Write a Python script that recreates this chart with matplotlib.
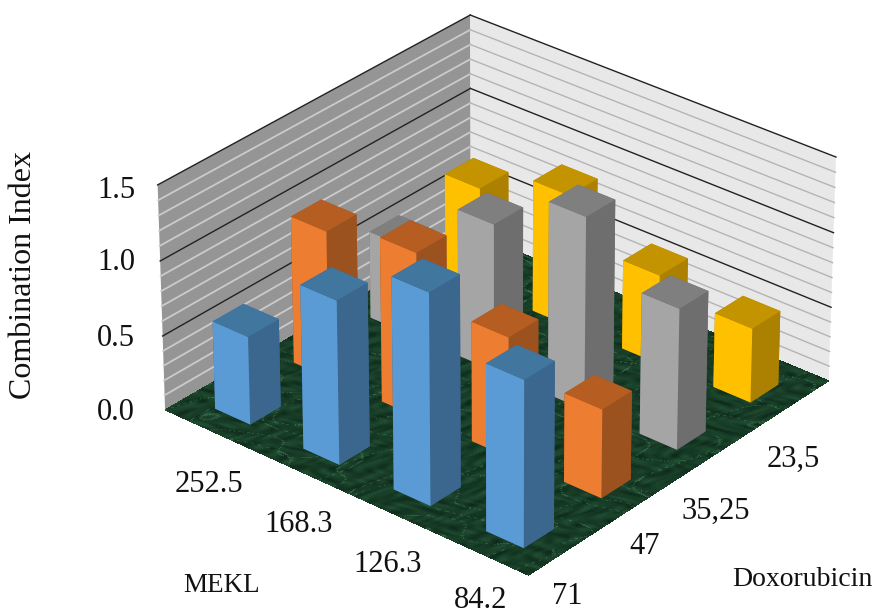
import numpy as np
import matplotlib
matplotlib.use('Agg')
import matplotlib.pyplot as plt
from mpl_toolkits.mplot3d.art3d import Poly3DCollection

plt.rcParams['font.family'] = ['Liberation Serif', 'DejaVu Serif']

W, H = 877, 616

mekl = ['252.5', '168.3', '126.3', '84.2']
doxo = ['71', '47', '35,25', '23,5']
z_labels = ['1.5', '1.0', '0.5', '0.0']
blue = [0.59, 1.09, 1.40, 1.10]
orange = [0.99, 1.10, 0.80, 0.59]
gray = [0.59, 0.99, 1.29, 0.94]
yellow = [0.69, 0.89, 0.60, 0.50]
series = [blue, orange, gray, yellow]

# front, side, top colours of each series
shades = [('#5B9BD5', '#3B668E', '#41769F'),
          ('#ED7D31', '#9C521F', '#B65E22'),
          ('#A5A5A5', '#6E6E6E', '#7F7F7F'),
          ('#FFC000', '#AC8000', '#C49300')]

fig = plt.figure(figsize=(W / 100, H / 100), dpi=100)
side = 700.3
ax = fig.add_axes([(488.8 - side / 2) / W, (322.2 - side / 2) / H, side / W, side / H],
                  projection='3d', computed_zorder=False)
ax.set_xlim(0, 4)
ax.set_ylim(0, 4)
ax.set_zlim(0, 1.5)
ax.view_init(elev=29.963, azim=-49.913)
ax.set_proj_type('persp', focal_length=1.55)
ax.set_box_aspect((1.84, 1.837, 1.0))

# back walls
ax.add_collection3d(Poly3DCollection([[(0, 0, 0), (0, 4, 0), (0, 4, 1.5), (0, 0, 1.5)]],
                                     facecolor='#959595', edgecolor='none', zorder=1))
ax.add_collection3d(Poly3DCollection([[(0, 4, 0), (4, 4, 0), (4, 4, 1.5), (0, 4, 1.5)]],
                                     facecolor='#E8E8E8', edgecolor='none', zorder=1))
for lev in np.arange(1, 16) / 10:
    major = round(lev * 10) % 5 == 0
    ax.plot([0, 0], [0, 4], [lev, lev], color='#222222' if major else '#CBCBCB', lw=1.0 if major else 1.3, zorder=2)
    ax.plot([0, 4], [4, 4], [lev, lev], color='#222222' if major else '#B4B4B4', lw=1.0, zorder=2)

# marble floor: diagonal streaks plus thin pale veins
n = 220
gx, gy = np.meshgrid(np.linspace(0, 4, n), np.linspace(0, 4, n))
u = gx + gy
v = gx - gy
streak = (np.sin(7.0 * u + 2.5 * np.sin(3.1 * v)) * np.sin(23.0 * v + 3.0 * np.sin(5.3 * u))
          + 0.6 * np.sin(31.0 * u + 6.0 * np.sin(9.1 * v)) * np.sin(11.0 * v))
streak = 0.5 + 0.32 * streak
vein = np.clip(1 - 14 * np.abs(np.sin(4.3 * v + 1.7 * np.sin(2.9 * u) + 0.8 * np.sin(8.3 * v + u))), 0, 1)
vein2 = np.clip(1 - 16 * np.abs(np.sin(3.7 * u + 2.1 * np.sin(3.3 * v + 0.5))), 0, 1)
pale = np.maximum(vein, vein2)
tex = np.zeros(gx.shape + (4,))
tex[..., 0] = 0.05 + 0.08 * streak + 0.10 * pale
tex[..., 1] = 0.16 + 0.15 * streak + 0.14 * pale
tex[..., 2] = 0.10 + 0.10 * streak + 0.11 * pale
tex[..., 3] = 1
ax.plot_surface(gx, gy, np.zeros_like(gx), facecolors=tex, rstride=1, cstride=1,
                shade=False, antialiased=False, linewidth=0, zorder=3)

# bars, painted from the back corner forward
bw_x = 0.40
bw_y = 0.385
zo = 10
for j in [3, 2, 1, 0]:
    for i in range(4):
        front, side_c, top = shades[j]
        ax.bar3d(i + 0.51 - bw_x / 2, j + 0.48 - bw_y / 2, 0, bw_x, bw_y, series[j][i],
                 color=[side_c, top, front, side_c, side_c, side_c], shade=False, zorder=zo)
        zo += 1

ax.set_axis_off()
ax.patch.set_alpha(0)


def put(px, py, txt, size, **kw):
    fig.text(px / W, 1 - py / H, txt, fontsize=size, ha='center', va='center', color='#111111', **kw)


for yy, lab in zip([190, 263, 338, 413], z_labels):
    put(116, yy, lab, 22)
for (xx, yy), lab in zip([(209, 484), (299, 525), (388, 565), (481, 600)], mekl):
    put(xx, yy, lab, 22)
for (xx, yy), lab in zip([(567, 597), (645, 547), (716, 511), (793, 459)], doxo):
    put(xx, yy, lab, 22)
put(24, 275, 'Combination Index', 23, rotation=90)
put(222, 586, 'MEKL', 19.5)
put(802, 579, 'Doxorubicin', 20)

fig.savefig('out.png', dpi=100)
